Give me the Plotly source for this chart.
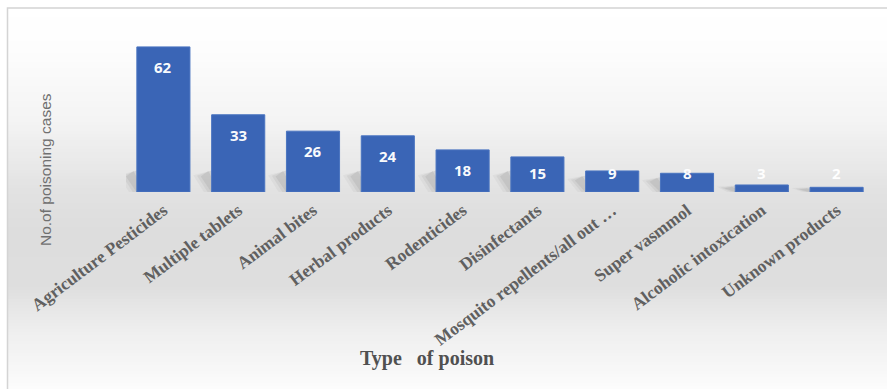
import plotly.graph_objects as go

# Poisoning cases by type of poison
categories = [
    "Agriculture Pesticides", "Multiple tablets", "Animal bites", "Herbal products",
    "Rodenticides", "Disinfectants", "Mosquito repellents/all out …", "Super vasmmol",
    "Alcoholic intoxication", "Unknown products",
]
cases = [62, 33, 26, 24, 18, 15, 9, 8, 3, 2]

W, H = 887, 389
ML, MR, MT, MB = 126, 13, 20, 197
PW, PH = W - ML - MR, H - MT - MB
YMAX = 73.5

def px(x):
    return (x - ML) / PW

def py(y):
    return 1 - (y - MT) / PH

def bg_level(y):
    # vertical gray profile of the chart-area fill (255 = white)
    pts = [(8, 255), (50, 253), (120, 244), (190, 226), (230, 221), (285, 222), (330, 238), (389, 252)]
    for (y0, v0), (y1, v1) in zip(pts, pts[1:]):
        if y0 <= y <= y1:
            t = (y - y0) / (y1 - y0)
            return v0 + (v1 - v0) * t
    return 252

shapes = []
# graded chart-area background, drawn as thin horizontal bands
step = 3
y = 8
while y < H:
    v = int(round(bg_level(y + step / 2)))
    shapes.append(dict(
        type="rect", xref="paper", yref="paper", layer="below",
        x0=px(8), x1=px(W + 2), y0=py(y + step), y1=py(y),
        fillcolor=f"rgb({v},{v},{v})", line=dict(width=0),
    ))
    y += step

# chart-area frame
shapes.append(dict(
    type="rect", xref="paper", yref="paper", layer="below",
    x0=px(7.5), x1=px(W + 5), y0=py(H + 5), y1=py(8),
    fillcolor="rgba(0,0,0,0)", line=dict(color="#d4d4d4", width=1.5),
))

# soft cast shadows behind the foot of each bar
for i, v in enumerate(cases):
    h = min(v, 12)
    for k, op in enumerate([0.05, 0.07, 0.09]):
        g = (2 - k) * 0.05
        shapes.append(dict(
            type="path", xref="x", yref="y", layer="below",
            path=(f"M {i - 0.36 - g},0 L {i - 0.50 - g},{h * 0.55 + g * 6} "
                  f"L {i - 0.40 + g},{h * 0.75 + g * 6} L {i - 0.25},0 Z"),
            fillcolor=f"rgba(70,70,70,{op})", line=dict(width=0),
        ))

fig = go.Figure()
fig.add_trace(go.Bar(
    x=list(range(len(categories))), y=cases,
    marker=dict(color="#3a65b6", line=dict(color="#4a74c0", width=1)),
    hoverinfo="skip",
))

annotations = []
for i, v in enumerate(cases):
    label_y = max(v, 16.5)
    annotations.append(dict(
        x=i, y=label_y, xref="x", yref="y", text=str(v), showarrow=False,
        yshift=-20, font=dict(family="Open Sans", size=15, color="white", weight="bold"),
        opacity=0.97,
    ))

# axis titles
annotations.append(dict(
    x=px(45), y=py(170), xref="paper", yref="paper", text="No.of poisoning cases",
    textangle=-90, showarrow=False, xanchor="center", yanchor="middle",
    font=dict(family="Liberation Sans", size=15.5, color="#707070"),
))
annotations.append(dict(
    x=px(427), y=py(358), xref="paper", yref="paper",
    text="Type&nbsp;&nbsp;&nbsp;of poison",
    showarrow=False, xanchor="center", yanchor="middle",
    font=dict(family="Liberation Serif", size=20, color="#505050", weight="bold"),
))

fig.update_layout(
    width=W, height=H,
    margin=dict(l=ML, r=MR, t=MT, b=MB),
    paper_bgcolor="white", plot_bgcolor="rgba(0,0,0,0)",
    showlegend=False, bargap=0.29,
    shapes=shapes, annotations=annotations,
    xaxis=dict(
        tickmode="array", tickvals=list(range(len(categories))), ticktext=categories,
        tickangle=-37, tickfont=dict(family="Liberation Serif", size=17.5, color="#606060", weight="bold"),
        showgrid=False, zeroline=False, showline=False, ticks="", range=[-0.5, 9.5],
        ticklabelstandoff=4,
    ),
    yaxis=dict(range=[0, YMAX], visible=False),
)

fig.write_html("out.html")
